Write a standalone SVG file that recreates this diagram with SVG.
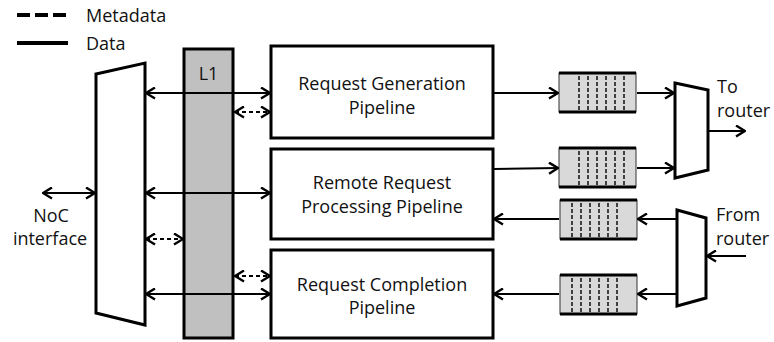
<svg xmlns="http://www.w3.org/2000/svg" width="774" height="342" viewBox="0 0 774 342">
  <style>
    .txt { font-family: "Open Sans", "Liberation Sans", sans-serif; font-size: 18px; fill: #111; }
    .mid { text-anchor: middle; }
    .box { fill: #ffffff; stroke: #000; stroke-width: 3; }
    .mux { fill: #ffffff; stroke: #000; stroke-width: 3; stroke-linejoin: miter; }
    .data { fill: none; stroke: #000; stroke-width: 2; }
    .meta { fill: none; stroke: #000; stroke-width: 2; stroke-dasharray: 4 3; }
    .qbody { fill: #d9d9d9; stroke: #333; stroke-width: 1; }
    .qedge { stroke: #000; stroke-width: 3; }
    .slot { stroke: #000; stroke-width: 1.4; stroke-dasharray: 4 2; }
  </style>
  <defs>
    <marker id="head" viewBox="0 0 11 13" refX="10" refY="6.5" markerWidth="11" markerHeight="13"
            markerUnits="userSpaceOnUse" orient="auto-start-reverse">
      <path d="M1,1 L10,6.5 L1,12" fill="none" stroke="#000" stroke-width="2.4" stroke-dasharray="none"/>
    </marker>
    <!-- one FIFO queue, slot dividers added per instance -->
    <g id="queue">
      <rect class="qbody" x="0" y="0" width="77" height="39"/>
      <line class="qedge" x1="0" y1="0" x2="77" y2="0"/>
      <line class="qedge" x1="0" y1="39" x2="77" y2="39"/>
    </g>
    <g id="slots-out">
      <line class="slot" x1="20" y1="3" x2="20" y2="37"/>
      <line class="slot" x1="29" y1="3" x2="29" y2="37"/>
      <line class="slot" x1="38" y1="3" x2="38" y2="37"/>
      <line class="slot" x1="47" y1="3" x2="47" y2="37"/>
      <line class="slot" x1="56" y1="3" x2="56" y2="37"/>
      <line class="slot" x1="65" y1="3" x2="65" y2="37"/>
    </g>
    <g id="slots-in">
      <line class="slot" x1="12" y1="3" x2="12" y2="37"/>
      <line class="slot" x1="21" y1="3" x2="21" y2="37"/>
      <line class="slot" x1="30" y1="3" x2="30" y2="37"/>
      <line class="slot" x1="39" y1="3" x2="39" y2="37"/>
      <line class="slot" x1="48" y1="3" x2="48" y2="37"/>
      <line class="slot" x1="57" y1="3" x2="57" y2="37"/>
    </g>
  </defs>

  <!-- legend -->
  <g id="legend">
    <line x1="17" y1="15" x2="66" y2="15" stroke="#000" stroke-width="4" stroke-dasharray="13 5"/>
    <line x1="17" y1="43" x2="68" y2="43" stroke="#000" stroke-width="4"/>
    <text class="txt" x="86" y="22">Metadata</text>
    <text class="txt" x="86" y="50">Data</text>
  </g>

  <!-- NoC interface label -->
  <g id="noc-label">
    <text class="txt mid" x="51" y="222">NoC</text>
    <text class="txt mid" x="50" y="245">interface</text>
  </g>

  <!-- network-side demux -->
  <g id="noc-mux">
    <polygon class="mux" points="96,74 145,63 145,325 96,313"/>
  </g>

  <!-- L1 cache -->
  <g id="l1">
    <rect x="184" y="49" width="49" height="289" fill="#c0c0c0" stroke="#000" stroke-width="3"/>
    <text class="txt mid" x="208.5" y="80" font-size="16">L1</text>
  </g>

  <!-- pipelines -->
  <g id="req-gen">
    <rect class="box" x="271" y="46" width="222" height="92"/>
    <text class="txt mid" x="382" y="90">Request Generation</text>
    <text class="txt mid" x="382" y="114">Pipeline</text>
  </g>
  <g id="remote-req">
    <rect class="box" x="271" y="149" width="222" height="90"/>
    <text class="txt mid" x="382" y="189">Remote Request</text>
    <text class="txt mid" x="382" y="213">Processing Pipeline</text>
  </g>
  <g id="req-comp">
    <rect class="box" x="271" y="250" width="222" height="88"/>
    <text class="txt mid" x="382" y="291">Request Completion</text>
    <text class="txt mid" x="382" y="314">Pipeline</text>
  </g>

  <!-- queues -->
  <g id="q-out-1" transform="translate(559,73)"><use href="#queue"/><use href="#slots-out"/></g>
  <g id="q-out-2" transform="translate(559,148)"><use href="#queue"/><use href="#slots-out"/></g>
  <g id="q-in-1" transform="translate(560,200)"><use href="#queue"/><use href="#slots-in"/></g>
  <g id="q-in-2" transform="translate(560,275)"><use href="#queue"/><use href="#slots-in"/></g>

  <!-- router-side mux / demux -->
  <g id="mux-out">
    <polygon class="mux" points="675,83 708,90 708,170 675,178"/>
    <text class="txt" x="717" y="93">To</text>
    <text class="txt" x="717" y="117">router</text>
  </g>
  <g id="mux-in">
    <polygon class="mux" points="677,210 706,218 706,298 677,306"/>
    <text class="txt" x="716" y="221">From</text>
    <text class="txt" x="716" y="245">router</text>
  </g>

  <!-- connectors -->
  <g id="connectors">
    <line class="data" x1="43" y1="193" x2="95" y2="193" marker-start="url(#head)" marker-end="url(#head)"/>
    <line class="data" x1="146" y1="93" x2="270" y2="93" marker-start="url(#head)" marker-end="url(#head)"/>
    <line class="data" x1="146" y1="193" x2="270" y2="193" marker-start="url(#head)" marker-end="url(#head)"/>
    <line class="data" x1="146" y1="294" x2="270" y2="294" marker-start="url(#head)" marker-end="url(#head)"/>
    <line class="meta" x1="235" y1="112" x2="270" y2="112" marker-start="url(#head)" marker-end="url(#head)"/>
    <line class="meta" x1="146" y1="239" x2="183" y2="239" marker-start="url(#head)" marker-end="url(#head)"/>
    <line class="meta" x1="235" y1="276" x2="270" y2="276" marker-start="url(#head)" marker-end="url(#head)"/>

    <line class="data" x1="494" y1="93" x2="558" y2="93" marker-end="url(#head)"/>
    <line class="data" x1="637" y1="93" x2="674" y2="93" marker-end="url(#head)"/>
    <line class="data" x1="494" y1="169" x2="558" y2="168" marker-end="url(#head)"/>
    <line class="data" x1="637" y1="168" x2="674" y2="168" marker-end="url(#head)"/>
    <line class="data" x1="709" y1="131" x2="745" y2="131" marker-end="url(#head)"/>

    <line class="data" x1="746" y1="256" x2="707" y2="256" marker-end="url(#head)"/>
    <line class="data" x1="676" y1="219" x2="638" y2="219" marker-end="url(#head)"/>
    <line class="data" x1="559" y1="219" x2="494" y2="219" marker-end="url(#head)"/>
    <line class="data" x1="676" y1="294" x2="638" y2="294" marker-end="url(#head)"/>
    <line class="data" x1="559" y1="294" x2="494" y2="294" marker-end="url(#head)"/>
  </g>
</svg>
